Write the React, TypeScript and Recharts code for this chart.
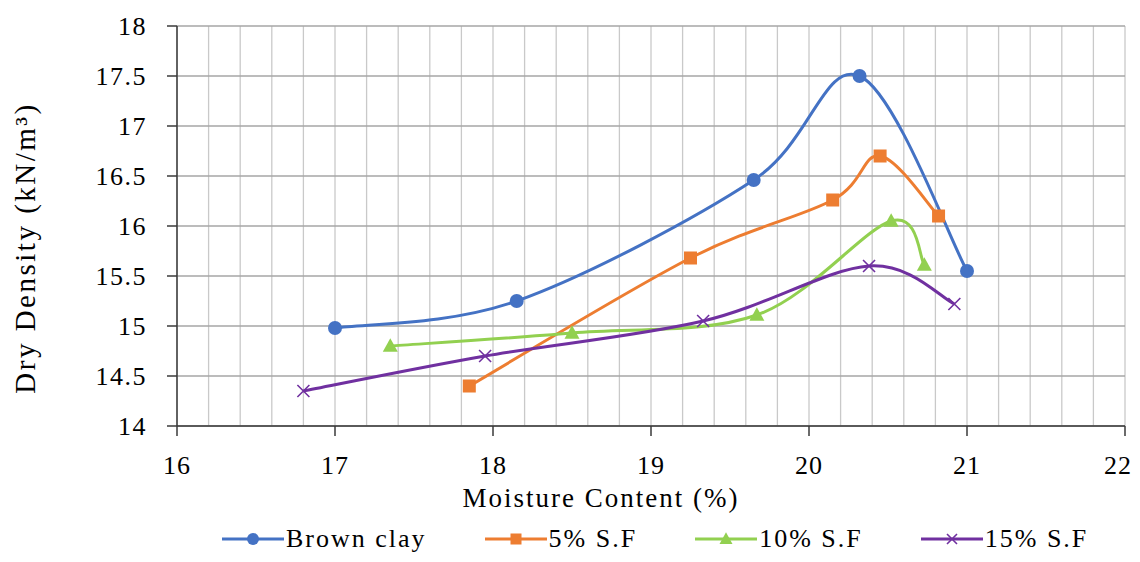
import { LineChart, Line, XAxis, YAxis, CartesianGrid, Legend } from "recharts";

const FONT = '"Liberation Serif", "Times New Roman", serif';

// moisture content (%) / dry density (kN/m3)
const brownX = [17.0, 18.15, 19.65, 20.32, 21.0];
const brownY = [14.98, 15.25, 16.46, 17.5, 15.55];
const sf5X = [17.85, 19.25, 20.15, 20.45, 20.82];
const sf5Y = [14.4, 15.68, 16.26, 16.7, 16.1];
const sf10X = [17.35, 18.5, 19.67, 20.52, 20.73];
const sf10Y = [14.8, 14.93, 15.11, 16.05, 15.61];
const sf15X = [16.8, 17.95, 19.33, 20.38, 20.92];
const sf15Y = [14.35, 14.7, 15.05, 15.6, 15.22];

const xTicks = [16, 17, 18, 19, 20, 21, 22];
const xMinorTicks = [
  16, 16.2, 16.4, 16.6, 16.8, 17, 17.2, 17.4, 17.6, 17.8, 18, 18.2, 18.4, 18.6, 18.8, 19, 19.2,
  19.4, 19.6, 19.8, 20, 20.2, 20.4, 20.6, 20.8, 21, 21.2, 21.4, 21.6, 21.8, 22,
];
const yTicks = [14, 14.5, 15, 15.5, 16, 16.5, 17, 17.5, 18];
const X_DOMAIN = [16, 22];

const zip = (xs: number[], ys: number[]) => xs.map((x, i) => ({ x, y: ys[i] }));

const series = [
  { name: "Brown clay", color: "#4472C4", shape: "circle", data: zip(brownX, brownY) },
  { name: "5% S.F", color: "#ED7D31", shape: "square", data: zip(sf5X, sf5Y) },
  { name: "10% S.F", color: "#92D050", shape: "triangle", data: zip(sf10X, sf10Y) },
  { name: "15% S.F", color: "#7030A0", shape: "cross", data: zip(sf15X, sf15Y) },
];

// Excel-like smoothed line (Catmull-Rom style bezier)
const excelSmooth = (context: any) => {
  let pts: number[][] = [];
  return {
    areaStart() {},
    areaEnd() {},
    lineStart() {
      pts = [];
    },
    point(x: number, y: number) {
      pts.push([+x, +y]);
    },
    lineEnd() {
      const n = pts.length;
      if (!n) return;
      context.moveTo(pts[0][0], pts[0][1]);
      for (let i = 0; i < n - 1; i++) {
        const p0 = pts[Math.max(i - 1, 0)];
        const p1 = pts[i];
        const p2 = pts[i + 1];
        const p3 = pts[Math.min(i + 2, n - 1)];
        context.bezierCurveTo(
          p1[0] + (p2[0] - p0[0]) / 6,
          p1[1] + (p2[1] - p0[1]) / 6,
          p2[0] - (p3[0] - p1[0]) / 6,
          p2[1] - (p3[1] - p1[1]) / 6,
          p2[0],
          p2[1]
        );
      }
    },
  };
};

function Marker({ shape, x, y, color, size }: any) {
  const s = size / 2;
  if (shape === "circle") return <circle cx={x} cy={y} r={s} fill={color} />;
  if (shape === "square") return <rect x={x - s} y={y - s} width={size} height={size} fill={color} />;
  if (shape === "triangle")
    return (
      <polygon
        points={`${x},${y - s * 1.05} ${x + s},${y + s * 0.75} ${x - s},${y + s * 0.75}`}
        fill={color}
      />
    );
  return (
    <path
      d={`M${x - s},${y - s}L${x + s},${y + s}M${x - s},${y + s}L${x + s},${y - s}`}
      stroke={color}
      strokeWidth={1.6}
      fill="none"
    />
  );
}

const dotSizes: Record<string, number> = { circle: 14, square: 13, triangle: 15, cross: 12 };

const makeDot = (shape: string, color: string) => (props: any) => {
  const { cx, cy, index } = props;
  if (cx == null || cy == null) return <g key={index} />;
  return (
    <g key={index}>
      <Marker shape={shape} x={cx} y={cy} color={color} size={dotSizes[shape]} />
    </g>
  );
};

// minor vertical grid every 0.2
const minorGridX = ({ xAxis, offset }: any) =>
  xMinorTicks.map((t) =>
    xAxis && typeof xAxis.scale === "function"
      ? xAxis.scale(t)
      : offset.left + ((t - X_DOMAIN[0]) / (X_DOMAIN[1] - X_DOMAIN[0])) * offset.width
  );

const renderLegend = () => (
  <div
    style={{
      display: "flex",
      alignItems: "center",
      flexWrap: "nowrap",
      whiteSpace: "nowrap",
      height: 30,
      width: 1124,
      paddingLeft: 214,
      boxSizing: "border-box",
      fontFamily: FONT,
      fontSize: 26,
      letterSpacing: 2,
      color: "#000",
    }}
  >
    {series.map((s) => (
      <div key={s.name} style={{ display: "flex", alignItems: "center", flexShrink: 0, marginRight: 58 }}>
        <svg width={62} height={20} style={{ flexShrink: 0 }}>
          <line x1={0} y1={10} x2={62} y2={10} stroke={s.color} strokeWidth={3} />
          <Marker shape={s.shape} x={31} y={10} color={s.color} size={dotSizes[s.shape] - 2} />
        </svg>
        <span style={{ marginLeft: 2 }}>{s.name}</span>
      </div>
    ))}
  </div>
);

export default function App() {
  return (
    <div style={{ fontFamily: FONT }}>
      <style>{"html, body { overflow: hidden; } svg.recharts-surface { overflow: visible; }"}</style>
      <LineChart width={1124} height={546} margin={{ top: 18, right: 7, bottom: 0, left: 0 }}>
        <CartesianGrid
          horizontal={false}
          verticalCoordinatesGenerator={minorGridX}
          stroke="#c9c9c9"
          strokeWidth={1.3}
        />
        <CartesianGrid vertical={false} stroke="#a6a6a6" strokeWidth={1.3} />
        <XAxis
          type="number"
          dataKey="x"
          domain={X_DOMAIN}
          ticks={xTicks}
          allowDataOverflow
          height={98}
          tickSize={10}
          tickMargin={20}
          stroke="#3a3a3a"
          strokeWidth={1.5}
          tick={{ fontSize: 26, fill: "#000", fontFamily: FONT, letterSpacing: 1 }}
          label={{
            content: ({ viewBox }: any) => (
              <text
                x={viewBox.x + viewBox.width / 2 - 50}
                y={viewBox.y + 81}
                textAnchor="middle"
                fontSize={27}
                fontFamily={FONT}
                letterSpacing={2}
                fill="#000"
              >
                Moisture Content (%)
              </text>
            ),
          }}
        />
        <YAxis
          type="number"
          domain={[14, 18]}
          ticks={yTicks}
          width={169}
          tickSize={10}
          tickMargin={20}
          stroke="#3a3a3a"
          strokeWidth={1.5}
          tick={{ fontSize: 26, fill: "#000", fontFamily: FONT, letterSpacing: 1.5 }}
          label={{
            content: () => (
              <text
                x={17}
                y={240}
                transform="rotate(-90, 17, 240)"
                textAnchor="middle"
                dominantBaseline="central"
                fontSize={29}
                fontFamily={FONT}
                letterSpacing={2.5}
                fill="#000"
              >
                Dry Density (kN/m³)
              </text>
            ),
          }}
        />
        {series.map((s) => (
          <Line
            key={s.name}
            data={s.data}
            dataKey="y"
            name={s.name}
            type={excelSmooth as any}
            stroke={s.color}
            strokeWidth={3}
            dot={makeDot(s.shape, s.color)}
            activeDot={false}
            isAnimationActive={false}
          />
        ))}
        <Legend
          verticalAlign="bottom"
          content={renderLegend}
          wrapperStyle={{ left: 0, width: 1124, bottom: 0 }}
        />
      </LineChart>
    </div>
  );
}
